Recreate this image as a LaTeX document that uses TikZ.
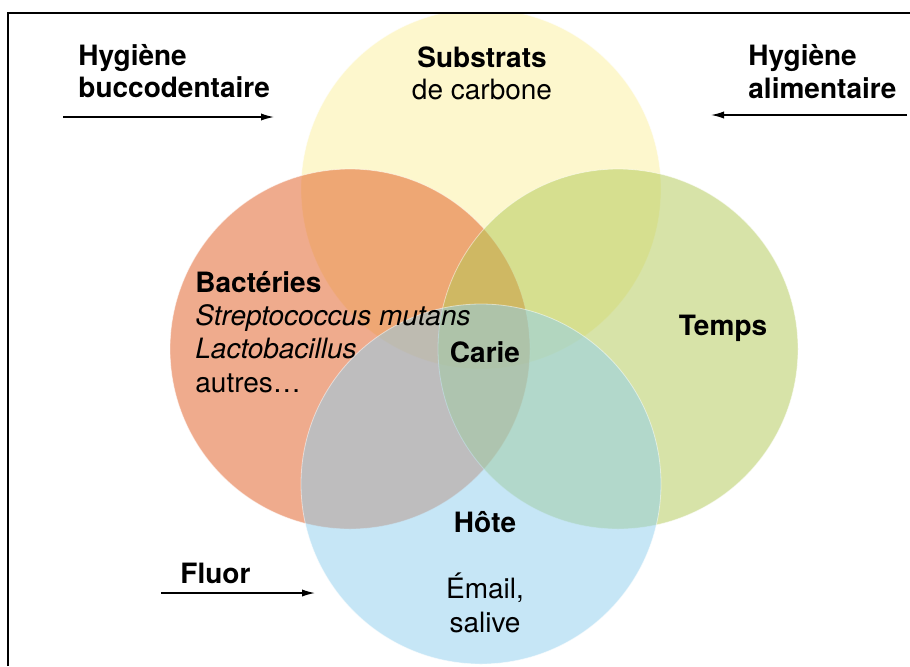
\documentclass[tikz,border=0pt]{standalone}
\usepackage{fontspec}
\setmainfont{TeX Gyre Heros}
\usetikzlibrary{arrows.meta}
\definecolor{cyel}{RGB}{253,241,157}
\definecolor{cred}{RGB}{225,89,29}
\definecolor{cgrn}{RGB}{177,201,83}
\definecolor{cblu}{RGB}{143,207,239}
\begin{document}
\begin{tikzpicture}[x=0.5pt,y=-0.5pt,
  disc/.style={fill opacity=0.5, draw=white, draw opacity=0.5, line width=0.4pt},
  lbl/.style={inner sep=0pt, anchor=base west, font=\fontsize{14}{16}\selectfont},
  lblc/.style={inner sep=0pt, anchor=base, font=\fontsize{14}{16}\selectfont},
  arr/.style={line width=0.7pt, -{Latex[length=6.5pt,width=3.6pt]}}]
\useasboundingbox (0,0) rectangle (910,666);
\fill[white] (0,0) rectangle (910,666);
\begin{scope}
  \clip (8,13) rectangle (910,666);
  \filldraw[disc, fill=cyel] (481,189) circle[radius=90pt];
  \filldraw[disc, fill=cred] (350,349) circle[radius=90pt];
  \filldraw[disc, fill=cgrn] (618,349) circle[radius=90pt];
  \filldraw[disc, fill=cblu] (481,484) circle[radius=90pt];
\end{scope}
\draw[line width=1.1pt] (8,666) -- (8,13) -- (910,13);
% texts
\node[lbl] (hb1) at (78,65) {\bfseries Hygiène};
\node[lbl] (hb2) at (78,97) {\bfseries buccodentaire};
\node[lbl] (ha1) at (748,65) {\bfseries Hygiène};
\node[lbl] (ha2) at (748,98) {\bfseries alimentaire};
\node[lbl] (fl) at (180,583) {\bfseries Fluor};
\node[lblc] (sub1) at (482,67) {\bfseries Substrats};
\node[lblc] (sub2) at (482,99) {de carbone};
\node[lbl] (ba1) at (195,292) {\bfseries Bactéries};
\node[lbl] (ba2) at (195,325) {\itshape Streptococcus mutans};
\node[lbl] (ba3) at (195,358) {\itshape Lactobacillus};
\node[lbl] (ba4) at (195,392) {autres…};
\node[lblc] (car) at (485,362) {\bfseries Carie};
\node[lblc] (tem) at (723,335) {\bfseries Temps};
\node[lblc] (hot) at (485,532) {\bfseries Hôte};
\node[lblc] (em1) at (485,598) {Émail,};
\node[lblc] (em2) at (485,632) {salive};
% arrows
\coordinate (a1s) at (63,117);
\coordinate (a1e) at (274,117);
\coordinate (a2s) at (907,115);
\coordinate (a2e) at (711,115);
\coordinate (a3s) at (161,593);
\coordinate (a3e) at (315,593);
\draw[arr] (a1s) -- (a1e);
\draw[arr] (a2s) -- (a2e);
\draw[arr] (a3s) -- (a3e);
\end{tikzpicture}
\end{document}
